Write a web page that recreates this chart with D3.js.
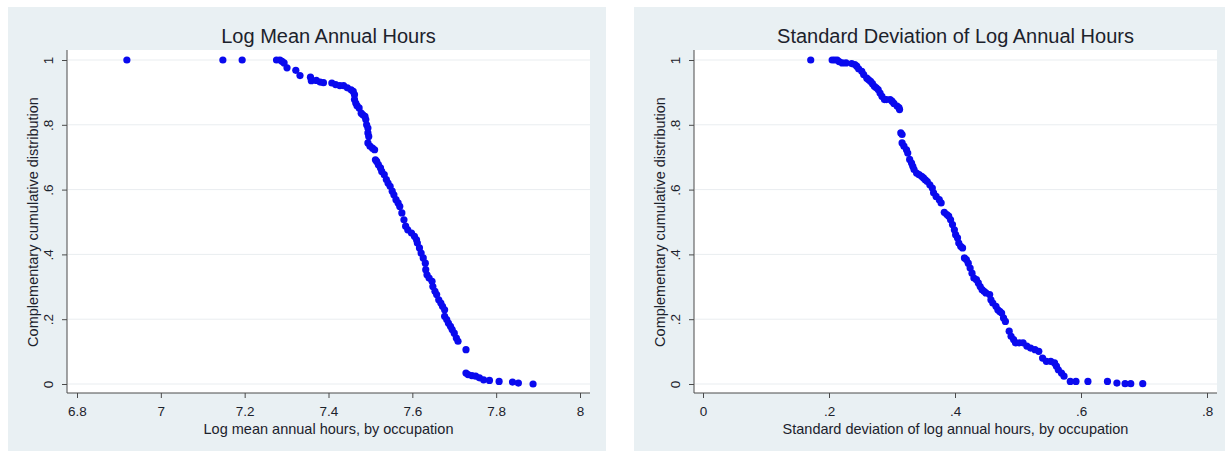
<!DOCTYPE html>
<html>
<head>
    <script src="https://d3js.org/d3.v7.min.js"></script>
    <style>
        body {
            margin: 0;
            background-color: white;
        }

        svg text {
            font-family: "Liberation Sans", Arial, Helvetica, sans-serif;
            fill: #1c222c;
        }

        .tick line {
            stroke: #4a4a4a;
        }

        .grid {
            stroke: #e9edf0;
            stroke-width: 1;
        }

        .dot {
            fill: #0a0aee;
        }
    </style>
</head>
<body>
    <div id="chart"></div>
    <script>
        // log mean annual hours, by occupation
        const meanX = [6.919, 7.148, 7.194, 7.276, 7.284, 7.289, 7.294, 7.301, 7.322, 7.332,
            7.357, 7.359, 7.371, 7.380, 7.388, 7.408, 7.417, 7.427, 7.436, 7.445,
            7.454, 7.459, 7.462, 7.462, 7.465, 7.468, 7.473, 7.478, 7.482, 7.487,
            7.489, 7.491, 7.494, 7.494, 7.496, 7.494, 7.499, 7.505, 7.510, 7.512,
            7.515, 7.519, 7.524, 7.527, 7.533, 7.538, 7.542, 7.547, 7.552, 7.556,
            7.561, 7.566, 7.570, 7.575, 7.580, 7.584, 7.589, 7.598, 7.605, 7.610,
            7.612, 7.617, 7.621, 7.626, 7.631, 7.632, 7.635, 7.640, 7.647, 7.649,
            7.654, 7.658, 7.663, 7.668, 7.672, 7.677, 7.677, 7.682, 7.686, 7.691,
            7.695, 7.700, 7.705, 7.709, 7.728, 7.728, 7.733, 7.742, 7.751, 7.760,
            7.770, 7.784, 7.807, 7.839, 7.853, 7.888]
        const meanY = [1.000, 1.000, 1.000, 1.000, 1.000, 0.996, 0.991, 0.976, 0.968, 0.952,
            0.947, 0.936, 0.937, 0.932, 0.930, 0.929, 0.924, 0.921, 0.921, 0.914,
            0.908, 0.903, 0.893, 0.878, 0.867, 0.859, 0.852, 0.836, 0.831, 0.826,
            0.816, 0.800, 0.790, 0.775, 0.764, 0.744, 0.734, 0.728, 0.723, 0.692,
            0.687, 0.677, 0.667, 0.656, 0.646, 0.631, 0.620, 0.610, 0.595, 0.584,
            0.569, 0.559, 0.548, 0.528, 0.507, 0.487, 0.476, 0.466, 0.456, 0.445,
            0.435, 0.420, 0.404, 0.389, 0.373, 0.353, 0.337, 0.327, 0.317, 0.301,
            0.286, 0.276, 0.260, 0.250, 0.240, 0.229, 0.209, 0.199, 0.188, 0.178,
            0.168, 0.157, 0.142, 0.132, 0.106, 0.034, 0.029, 0.026, 0.024, 0.019,
            0.013, 0.011, 0.008, 0.006, 0.003, 0.000]

        // standard deviation of log annual hours, by occupation
        const sdX = [0.171, 0.205, 0.209, 0.213, 0.216, 0.221, 0.227, 0.236, 0.241, 0.244,
            0.247, 0.252, 0.255, 0.260, 0.263, 0.266, 0.269, 0.272, 0.275, 0.278,
            0.281, 0.284, 0.288, 0.291, 0.297, 0.300, 0.303, 0.308, 0.311, 0.312,
            0.314, 0.316, 0.316, 0.319, 0.323, 0.325, 0.328, 0.331, 0.333, 0.335,
            0.339, 0.343, 0.347, 0.350, 0.353, 0.356, 0.360, 0.364, 0.366, 0.370,
            0.375, 0.378, 0.383, 0.387, 0.390, 0.393, 0.396, 0.399, 0.401, 0.404,
            0.406, 0.409, 0.412, 0.415, 0.418, 0.421, 0.424, 0.427, 0.430, 0.434,
            0.437, 0.440, 0.443, 0.446, 0.449, 0.455, 0.457, 0.460, 0.465, 0.468,
            0.471, 0.474, 0.477, 0.480, 0.486, 0.489, 0.493, 0.496, 0.502, 0.508,
            0.514, 0.520, 0.527, 0.533, 0.539, 0.545, 0.552, 0.558, 0.561, 0.564,
            0.569, 0.573, 0.583, 0.592, 0.611, 0.642, 0.657, 0.670, 0.679, 0.698]
        const sdY = [1.000, 1.000, 1.000, 1.000, 0.995, 0.991, 0.991, 0.989, 0.986, 0.981,
            0.973, 0.965, 0.955, 0.944, 0.939, 0.934, 0.927, 0.919, 0.914, 0.909,
            0.898, 0.888, 0.878, 0.878, 0.878, 0.873, 0.866, 0.858, 0.853, 0.847,
            0.775, 0.770, 0.744, 0.734, 0.723, 0.713, 0.693, 0.682, 0.672, 0.662,
            0.651, 0.646, 0.641, 0.636, 0.630, 0.625, 0.615, 0.605, 0.590, 0.579,
            0.569, 0.559, 0.530, 0.523, 0.518, 0.507, 0.492, 0.476, 0.461, 0.451,
            0.435, 0.425, 0.420, 0.389, 0.384, 0.373, 0.358, 0.342, 0.327, 0.322,
            0.312, 0.301, 0.291, 0.286, 0.281, 0.276, 0.260, 0.250, 0.240, 0.229,
            0.224, 0.219, 0.204, 0.193, 0.163, 0.147, 0.137, 0.127, 0.127, 0.127,
            0.117, 0.111, 0.106, 0.101, 0.080, 0.070, 0.070, 0.065, 0.055, 0.044,
            0.034, 0.024, 0.008, 0.008, 0.008, 0.008, 0.003, 0.001, 0.001, 0.001]

        const yTicks = [0, 0.2, 0.4, 0.6, 0.8, 1]
        const meanTicks = [6.8, 7, 7.2, 7.4, 7.6, 7.8, 8]
        const sdTicks = [0, 0.2, 0.4, 0.6, 0.8]

        const W = 1225
        const H = 451
        const stataFmt = d => {
            const s = String(+d.toFixed(2))
            return s.replace(/^0\./, '.')
        }

        const svg = d3.select('#chart')
            .append('svg')
            .attr('width', W)
            .attr('height', H)

        function drawPanel(p) {
            const g = svg.append('g')

            g.append('rect')
                .attr('x', p.bgX0).attr('y', 7)
                .attr('width', p.bgX1 - p.bgX0).attr('height', H - 7)
                .attr('fill', '#e9f0f3')

            g.append('rect')
                .attr('x', p.left).attr('y', 50)
                .attr('width', p.right - p.left).attr('height', 393 - 50)
                .attr('fill', 'white')

            const x = d3.scaleLinear().domain(p.xDomain).range(p.xRange)
            const y = d3.scaleLinear().domain([0, 1]).range([384, 60])

            g.selectAll('.grid')
                .data(yTicks)
                .enter()
                .append('line')
                .attr('class', 'grid')
                .attr('x1', p.left + 1).attr('x2', p.right)
                .attr('y1', d => y(d)).attr('y2', d => y(d))

            // axes
            const yAxis = g.append('g')
                .attr('transform', `translate(${p.left}, 0)`)
                .call(d3.axisLeft(y).tickValues(yTicks).tickFormat(stataFmt).tickSize(5).tickSizeOuter(0))
            yAxis.select('.domain').remove()
            yAxis.selectAll('text')
                .attr('transform', 'rotate(-90)')
                .attr('x', 0).attr('y', -14).attr('dy', 0)
                .attr('text-anchor', 'middle')
                .style('font-size', '13.5px')

            const xAxis = g.append('g')
                .attr('transform', 'translate(0, 393)')
                .call(d3.axisBottom(x).tickValues(p.xTicks).tickFormat(stataFmt).tickSize(5).tickPadding(8).tickSizeOuter(0))
            xAxis.select('.domain').remove()
            xAxis.selectAll('text').style('font-size', '13.5px')

            g.append('line')
                .attr('x1', p.left).attr('x2', p.left)
                .attr('y1', 50).attr('y2', 393)
                .attr('stroke', '#4a4a4a')
            g.append('line')
                .attr('x1', p.left).attr('x2', p.right)
                .attr('y1', 393).attr('y2', 393)
                .attr('stroke', '#4a4a4a')

            // points
            g.selectAll('.dot')
                .data(p.xs.map((v, i) => ({ x: v, y: p.ys[i] })))
                .enter()
                .append('circle')
                .attr('class', 'dot')
                .attr('cx', d => x(d.x))
                .attr('cy', d => y(d.y))
                .attr('r', 3.6)

            // titles
            const cx = (p.left + p.right) / 2
            g.append('text')
                .attr('x', cx).attr('y', 43)
                .attr('text-anchor', 'middle')
                .style('font-size', '20px')
                .text(p.title)
            g.append('text')
                .attr('x', cx).attr('y', 434)
                .attr('text-anchor', 'middle')
                .style('font-size', '14.5px')
                .text(p.xTitle)
            g.append('text')
                .attr('transform', `translate(${p.left - 29}, 222) rotate(-90)`)
                .attr('text-anchor', 'middle')
                .style('font-size', '14.5px')
                .text('Complementary cumulative distribution')
        }

        drawPanel({
            bgX0: 8, bgX1: 606, left: 67, right: 590,
            xDomain: [6.8, 8], xRange: [77, 580], xTicks: meanTicks,
            xs: meanX, ys: meanY,
            title: 'Log Mean Annual Hours',
            xTitle: 'Log mean annual hours, by occupation'
        })

        drawPanel({
            bgX0: 634, bgX1: 1232, left: 694, right: 1217,
            xDomain: [0, 0.8], xRange: [703, 1207], xTicks: sdTicks,
            xs: sdX, ys: sdY,
            title: 'Standard Deviation of Log Annual Hours',
            xTitle: 'Standard deviation of log annual hours, by occupation'
        })
    </script>
</body>
</html>
